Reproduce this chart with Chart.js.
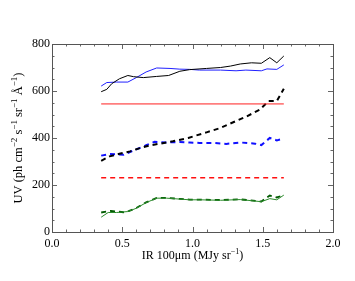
<!DOCTYPE html>
<html>
<head>
<meta charset="utf-8">
<script src="https://cdn.jsdelivr.net/npm/chart.js@4.4.1/dist/chart.umd.min.js"></script>
<style>
    html, body { margin: 0; padding: 0; background: #fff; }
    #chart { display: block; }
</style>
</head>
<body>
<canvas id="chart" width="355" height="281"></canvas>
<script>
// Data (x = IR 100um, y = UV)
const blackSolidX = [0.35, 0.39, 0.425, 0.48, 0.54, 0.58, 0.65, 0.745, 0.83, 0.91, 0.98, 1.10, 1.20, 1.27, 1.34, 1.42, 1.49, 1.55, 1.60, 1.65];
const blackSolidY = [597, 607, 631, 652, 666, 661, 657, 662, 666, 684, 691, 696, 700, 706, 715, 720, 718, 742, 720, 749];

const blueSolidX = [0.35, 0.39, 0.46, 0.54, 0.60, 0.67, 0.745, 0.84, 0.91, 0.98, 1.05, 1.20, 1.31, 1.38, 1.49, 1.53, 1.60, 1.65];
const blueSolidY = [621, 636, 638, 638, 657, 681, 698, 696, 693, 692, 689, 689, 686, 689, 686, 694, 692, 711];

const blackDashX = [0.35, 0.41, 0.48, 0.555, 0.626, 0.70, 0.77, 0.86, 0.97, 1.006, 1.10, 1.20, 1.29, 1.386, 1.48, 1.54, 1.60, 1.65];
const blackDashY = [303, 322, 333, 343, 357, 369, 376, 386, 400, 407, 424, 443, 467, 492, 521, 557, 557, 610];

const blueDashX = [0.35, 0.41, 0.51, 0.58, 0.67, 0.73, 0.82, 0.91, 0.98, 1.05, 1.15, 1.24, 1.34, 1.445, 1.49, 1.55, 1.60, 1.65];
const blueDashY = [325, 332, 329, 347, 369, 384, 381, 383, 381, 379, 379, 375, 381, 376, 370, 400, 390, 397];

const greenSolidX = [0.35, 0.40, 0.46, 0.54, 0.60, 0.67, 0.745, 0.816, 0.91, 0.98, 1.05, 1.20, 1.34, 1.49, 1.55, 1.60, 1.65];
const greenSolidY = [63, 83, 83, 87, 101, 125, 144, 144, 140, 137, 137, 135, 138, 129, 142, 137, 157];

const greenDashX = [0.35, 0.42, 0.51, 0.55, 0.60, 0.67, 0.745, 0.816, 0.91, 0.98, 1.05, 1.20, 1.34, 1.49, 1.55, 1.60, 1.65];
const greenDashY = [83, 90, 84, 90, 102, 126, 145, 145, 141, 138, 138, 136, 139, 130, 155, 147, 157];

const redLevelX = [0.35, 1.65];
const redSolidLevel = 545;
const redDashLevel = 231;

const xTicks = [0.0, 0.5, 1.0, 1.5, 2.0];
const yTicks = [0, 200, 400, 600, 800];

const FONT = '"Liberation Serif", "DejaVu Serif", serif';

function toPoints(xs, ys) {
    return xs.map((x, i) => ({ x: x, y: ys[i] }));
}

function lineSet(xs, ys, color, width, dash) {
    return {
        data: toPoints(xs, ys),
        borderColor: color,
        borderWidth: width,
        borderDash: dash || [],
        pointRadius: 0,
        tension: 0,
        fill: false
    };
}

// Inward major/minor ticks on all four sides
const ticksPlugin = {
    id: 'innerTicks',
    afterDraw(chart) {
        const ctx = chart.ctx;
        const xs = chart.scales.x;
        const ys = chart.scales.y;
        const a = chart.chartArea;
        ctx.save();
        ctx.strokeStyle = '#666';
        ctx.lineWidth = 1;
        ctx.beginPath();
        for (let i = 0; i <= 20; i++) {
            const v = i * 0.1;
            const px = Math.round(xs.getPixelForValue(v)) + 0.5;
            const len = i % 5 === 0 ? 5 : 2.5;
            ctx.moveTo(px, a.bottom); ctx.lineTo(px, a.bottom - len);
            ctx.moveTo(px, a.top); ctx.lineTo(px, a.top + len);
        }
        for (let i = 0; i <= 16; i++) {
            const v = i * 50;
            const py = Math.round(ys.getPixelForValue(v)) + 0.5;
            const len = i % 4 === 0 ? 5 : 2.5;
            ctx.moveTo(a.left, py); ctx.lineTo(a.left + len, py);
            ctx.moveTo(a.right, py); ctx.lineTo(a.right - len, py);
        }
        ctx.stroke();
        ctx.strokeStyle = '#555';
        ctx.strokeRect(Math.round(a.left) + 0.5, Math.round(a.top) + 0.5,
            Math.round(a.right - a.left), Math.round(a.bottom - a.top));
        ctx.restore();

        drawTitles(chart);
    }
};

// Text with superscripts, drawn as segments
function drawRich(ctx, parts, size) {
    const supSize = Math.round(size * 0.68);
    let total = 0;
    parts.forEach(p => {
        ctx.font = (p.sup ? supSize : size) + 'px ' + FONT;
        p.w = ctx.measureText(p.t).width;
        total += p.w;
    });
    let x = -total / 2;
    parts.forEach(p => {
        ctx.font = (p.sup ? supSize : size) + 'px ' + FONT;
        ctx.fillText(p.t, x, p.sup ? -size * 0.38 : 0);
        x += p.w;
    });
}

function drawTitles(chart) {
    const ctx = chart.ctx;
    const a = chart.chartArea;
    ctx.save();
    ctx.fillStyle = '#000';
    ctx.textBaseline = 'middle';
    ctx.textAlign = 'left';

    ctx.save();
    ctx.translate((a.left + a.right) / 2, 256);
    drawRich(ctx, [
        { t: 'IR 100\u03bcm (MJy sr' }, { t: '\u22121', sup: true }, { t: ')' }
    ], 12);
    ctx.restore();

    ctx.save();
    ctx.translate(19, (a.top + a.bottom) / 2);
    ctx.rotate(-Math.PI / 2);
    drawRich(ctx, [
        { t: 'UV (ph cm' }, { t: '\u22122', sup: true },
        { t: ' s' }, { t: '\u22121', sup: true },
        { t: ' sr' }, { t: '\u22121', sup: true },
        { t: ' \u00c5' }, { t: '\u22121', sup: true }, { t: ')' }
    ], 12.5);
    ctx.restore();

    ctx.restore();
}

const chart = new Chart(document.getElementById('chart'), {
    type: 'line',
    data: {
        datasets: [
            lineSet(blackSolidX, blackSolidY, '#000000', 1),
            lineSet(blueSolidX, blueSolidY, '#2020ff', 1),
            lineSet(redLevelX, [redSolidLevel, redSolidLevel], '#ff2020', 1),
            lineSet(blackDashX, blackDashY, '#000000', 2, [5, 4]),
            lineSet(blueDashX, blueDashY, '#1010ff', 2, [5, 4]),
            lineSet(redLevelX, [redDashLevel, redDashLevel], '#ff1010', 1.6, [5, 4]),
            lineSet(greenSolidX, greenSolidY, '#2a8a2a', 1),
            lineSet(greenDashX, greenDashY, '#005a00', 1.8, [5, 4])
        ]
    },
    options: {
        responsive: false,
        animation: false,
        layout: { padding: { top: 44, right: 22, left: 0, bottom: 0 } },
        plugins: { legend: { display: false }, tooltip: { enabled: false } },
        scales: {
            x: {
                type: 'linear',
                min: 0, max: 2,
                afterBuildTicks: s => { s.ticks = xTicks.map(v => ({ value: v })); },
                afterFit: s => { s.height = 49; },
                grid: { display: false, drawTicks: false },
                border: { display: false },
                ticks: {
                    padding: 5,
                    color: '#000',
                    font: { family: FONT, size: 12 },
                    maxRotation: 0,
                    callback: v => v.toFixed(1)
                }
            },
            y: {
                type: 'linear',
                min: 0, max: 800,
                afterBuildTicks: s => { s.ticks = yTicks.map(v => ({ value: v })); },
                afterFit: s => { s.width = 52; },
                grid: { display: false, drawTicks: false },
                border: { display: false },
                ticks: {
                    padding: 2,
                    color: '#000',
                    font: { family: FONT, size: 12 }
                }
            }
        }
    },
    plugins: [ticksPlugin]
});
</script>
</body>
</html>
